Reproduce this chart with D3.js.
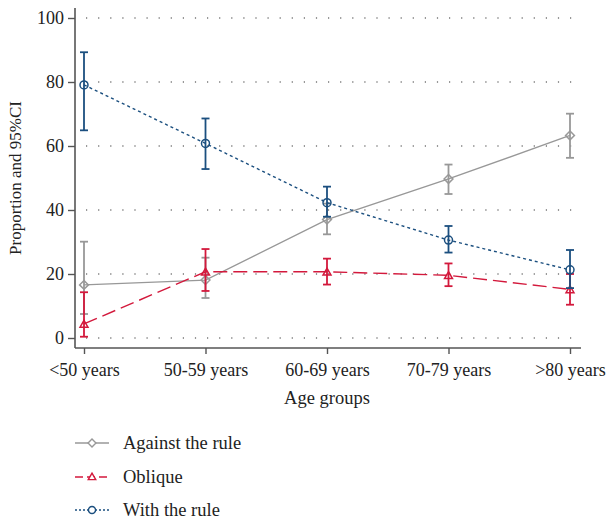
<!DOCTYPE html>
<html><head><meta charset="utf-8">
<script src="https://cdn.jsdelivr.net/npm/d3@7"></script>
<style>body{margin:0;background:#fff}svg{display:block}text{font-family:"Liberation Serif","DejaVu Serif",serif;fill:#222}</style>
</head><body>
<svg id="c" width="607" height="520"></svg>
<script>
const categories = ["<50 years","50-59 years","60-69 years","70-79 years",">80 years"];
const yTicks = [0,20,40,60,80,100];
const againstVal = [16.6,18.1,37.0,49.7,63.3];
const againstLo  = [7.5,12.5,32.4,45.0,56.3];
const againstHi  = [30.1,25.1,42.0,54.2,70.1];
const obliqueVal = [4.4,20.7,20.7,19.6,15.2];
const obliqueLo  = [0.4,14.7,16.7,16.2,10.4];
const obliqueHi  = [14.3,27.8,24.8,23.3,20.0];
const withVal = [79.1,60.8,42.3,30.6,21.3];
const withLo  = [64.9,52.8,37.9,26.7,15.6];
const withHi  = [89.3,68.6,47.3,35.0,27.5];
const seriesNames = ["Against the rule","Oblique","With the rule"];

const series = [
  {name:seriesNames[0], v:againstVal, lo:againstLo, hi:againstHi, color:"#989898", dash:null, marker:"diamond"},
  {name:seriesNames[1], v:obliqueVal, lo:obliqueLo, hi:obliqueHi, color:"#d3193c", dash:"14,6", marker:"triangle"},
  {name:seriesNames[2], v:withVal, lo:withLo, hi:withHi, color:"#1b4f7f", dash:"3,3", marker:"circle"}
];

const svg = d3.select("#c");
const x = d3.scalePoint().domain(categories).range([84,570]);
const y = d3.scaleLinear().domain([0,100]).range([338,18]);
const axisX0 = 75, axisY0 = 348;

// grid
svg.append("g").selectAll("line").data(yTicks).join("line")
  .attr("x1",86).attr("x2",582).attr("y1",d=>y(d)).attr("y2",d=>y(d))
  .attr("stroke","#333").attr("stroke-width",1.2).attr("stroke-dasharray","1.2,10.9");

// y axis
const ya = svg.append("g").attr("transform",`translate(${axisX0},0)`)
  .call(d3.axisLeft(y).tickValues(yTicks).tickSize(7).tickPadding(4));
ya.select(".domain").attr("d",`M0,8V${axisY0}`);
// x axis
const xa = svg.append("g").attr("transform",`translate(0,${axisY0})`)
  .call(d3.axisBottom(x).tickSize(6).tickPadding(9));
xa.select(".domain").attr("d",`M${axisX0},0H581`);
[ya,xa].forEach(a=>{
  a.select(".domain").attr("stroke","#555").attr("stroke-width",1.6);
  a.selectAll(".tick line").attr("stroke","#555").attr("stroke-width",1.4);
  a.selectAll(".tick text").attr("font-size",18).attr("fill","#222")
   .style("font-family",'"Liberation Serif","DejaVu Serif",serif');
});

svg.append("text").attr("transform","translate(21,178) rotate(-90)")
  .attr("text-anchor","middle").attr("font-size",17).text("Proportion and 95%CI");
svg.append("text").attr("x",327).attr("y",404).attr("text-anchor","middle")
  .attr("font-size",18.5).text("Age groups");

function symbolFor(type){
  return type==="diamond" ? d3.symbolDiamond2 : type==="triangle" ? d3.symbolTriangle2 : d3.symbolCircle;
}

const line = d3.line().x((d,i)=>x(categories[i])).y(d=>y(d));
series.forEach(s=>{
  const g = svg.append("g");
  g.append("path").attr("d",line(s.v)).attr("fill","none").attr("stroke",s.color)
    .attr("stroke-width",1.4).attr("stroke-dasharray",s.dash);
  categories.forEach((c,i)=>{
    const cx = x(c);
    g.append("line").attr("x1",cx).attr("x2",cx).attr("y1",y(s.lo[i])).attr("y2",y(s.hi[i]))
      .attr("stroke",s.color).attr("stroke-width",1.8);
    [s.lo[i],s.hi[i]].forEach(v=>g.append("line").attr("x1",cx-4).attr("x2",cx+4)
      .attr("y1",y(v)).attr("y2",y(v)).attr("stroke",s.color).attr("stroke-width",1.8));
    g.append("path").attr("d",d3.symbol().type(symbolFor(s.marker)).size(s.marker==="triangle"?45:50)())
      .attr("transform",`translate(${cx},${y(s.v[i])+(s.marker==="triangle"?1:0)})`)
      .attr("fill","none").attr("stroke",s.color).attr("stroke-width",1.5);
  });
});

// legend
const legY = [443,477,510];
series.forEach((s,i)=>{
  const g = svg.append("g");
  const ly = legY[i];
  g.append("line").attr("x1",75).attr("x2",109).attr("y1",ly).attr("y2",ly)
    .attr("stroke",s.color).attr("stroke-width",1.3)
    .attr("stroke-dasharray", s.marker==="triangle" ? "8,4" : s.dash==="3,3" ? "2,2" : null);
  g.append("path").attr("d",d3.symbol().type(symbolFor(s.marker)).size(40)())
    .attr("transform",`translate(92,${ly+(s.marker==="triangle"?0.5:0)})`).attr("fill","#fff").attr("stroke",s.color).attr("stroke-width",1.4);
  g.append("text").attr("x",123).attr("y",ly+6).attr("font-size",18.5).text(s.name);
});
</script>
</body></html>
